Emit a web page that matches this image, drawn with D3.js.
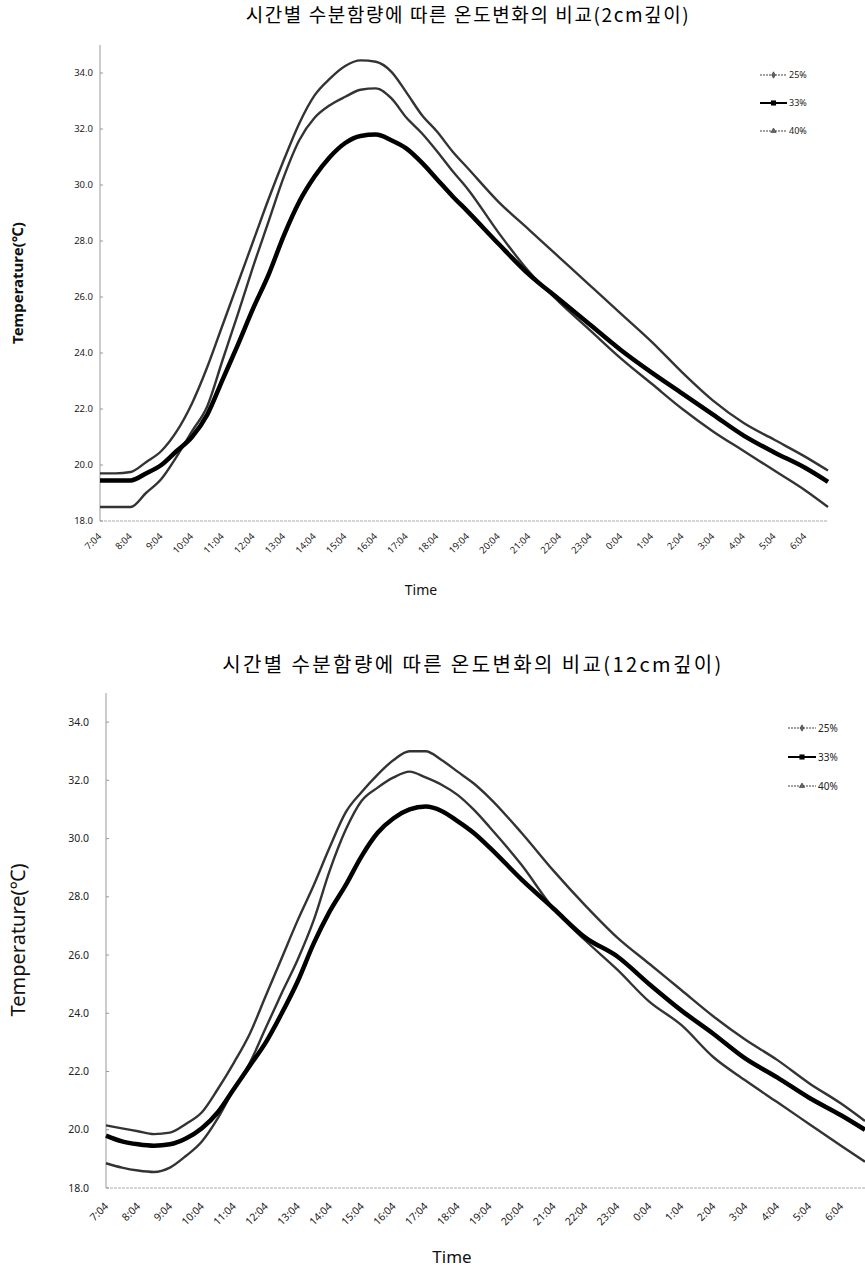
<!DOCTYPE html>
<html><head><meta charset="utf-8">
<script src="https://cdn.jsdelivr.net/npm/d3@7"></script>
<style>body{margin:0;background:#fff}svg{display:block}</style>
</head><body>
<svg id="c" width="865" height="1274"></svg>
<script>
// hours after 7:04
const hours = [0,0.5,1,1.5,2,2.5,3,3.5,4,4.5,5,5.5,6,6.5,7,7.5,8,8.5,9,9.5,10,10.5,11,11.5,12,13,14,15,16,17,18,19,20,21,22,23,23.75];
const tickLabels = ["7:04","8:04","9:04","10:04","11:04","12:04","13:04","14:04","15:04","16:04","17:04","18:04","19:04","20:04","21:04","22:04","23:04","0:04","1:04","2:04","3:04","4:04","5:04","6:04"];
const yTicks = [18,20,22,24,26,28,30,32,34];
const seriesNames = ["25%","33%","40%"];

// 2cm depth
const top25 = [18.5,18.5,18.5,19.0,19.5,20.3,21.2,22.1,23.75,25.4,27.1,28.7,30.3,31.6,32.4,32.85,33.15,33.4,33.45,33.1,32.4,31.85,31.2,30.5,29.85,28.3,26.9,25.8,24.8,23.8,22.9,22.0,21.2,20.5,19.8,19.1,18.5];
const top33 = [19.45,19.45,19.45,19.7,20.0,20.5,21.0,21.8,23.05,24.3,25.6,26.8,28.2,29.4,30.3,31.0,31.5,31.75,31.8,31.6,31.3,30.8,30.2,29.6,29.05,27.9,26.8,25.9,25.0,24.1,23.3,22.55,21.8,21.05,20.45,19.9,19.4];
const top40 = [19.7,19.7,19.75,20.1,20.5,21.2,22.2,23.5,25.0,26.5,28.0,29.5,30.9,32.2,33.2,33.8,34.25,34.45,34.4,34.05,33.3,32.5,31.9,31.2,30.6,29.4,28.4,27.4,26.4,25.4,24.4,23.3,22.3,21.5,20.9,20.3,19.8];

// 12cm depth
const bot25 = [18.85,18.7,18.6,18.55,18.7,19.1,19.6,20.4,21.4,22.3,23.5,24.7,25.85,27.2,28.9,30.3,31.3,31.75,32.1,32.3,32.1,31.85,31.5,31.0,30.4,29.1,27.6,26.5,25.5,24.4,23.6,22.5,21.7,20.95,20.2,19.45,18.9];
const bot33 = [19.8,19.6,19.5,19.45,19.5,19.7,20.05,20.6,21.4,22.2,23.0,24.0,25.1,26.4,27.5,28.4,29.4,30.2,30.7,31.0,31.1,30.95,30.6,30.2,29.7,28.6,27.6,26.6,25.95,25.0,24.1,23.3,22.45,21.8,21.1,20.5,20.0];
const bot40 = [20.15,20.05,19.95,19.85,19.9,20.2,20.6,21.4,22.3,23.3,24.6,25.9,27.2,28.4,29.7,30.9,31.6,32.2,32.7,33.0,33.0,32.7,32.3,31.9,31.4,30.2,28.9,27.7,26.6,25.7,24.8,23.9,23.1,22.4,21.6,20.9,20.3];

const svg = d3.select("#c");

function drawChart(cfg){
  const g = svg.append("g");
  const x = d3.scaleLinear().domain([0,23.75]).range([cfg.x0, cfg.x1]);
  const y = d3.scaleLinear().domain([18,35]).range([cfg.y0, cfg.y1]);

  g.append("text").attr("x", cfg.titleX).attr("y", cfg.titleY).attr("text-anchor","middle")
    .style("font-family","'Noto Sans CJK KR', sans-serif").style("font-size", cfg.titleSize+"px")
    .style("letter-spacing", cfg.titleLS+"px").attr("fill","#000")
    .text(cfg.title);

  // axes lines
  g.append("line").attr("x1",cfg.x0).attr("x2",cfg.x0).attr("y1",cfg.y1).attr("y2",cfg.y0)
    .attr("stroke","#999").attr("stroke-width",1);
  g.append("line").attr("x1",cfg.x0).attr("x2",cfg.x1).attr("y1",cfg.y0).attr("y2",cfg.y0)
    .attr("stroke","#aaa").attr("stroke-width",1).attr("stroke-dasharray","3,1");

  // y ticks
  yTicks.forEach(v=>{
    g.append("line").attr("x1",cfg.x0).attr("x2",cfg.x0+3).attr("y1",y(v)).attr("y2",y(v)).attr("stroke","#999");
    g.append("text").attr("x",cfg.yLabX).attr("y",y(v)+cfg.tickSize*0.35).attr("text-anchor","end")
      .style("font-family","'Noto Sans', sans-serif").style("font-size",cfg.tickSize+"px").attr("fill","#222")
      .text(v.toFixed(1));
  });
  // x tick labels
  tickLabels.forEach((lab,i)=>{
    const px = x(i), py = cfg.y0 + cfg.xLabDy;
    g.append("text").attr("transform",`translate(${px+cfg.xLabDx},${py}) rotate(-45)`)
      .attr("text-anchor","end")
      .style("font-family","'Noto Sans', sans-serif").style("font-size",cfg.tickSize+"px").attr("fill","#222")
      .text(lab);
  });

  g.append("text").attr("x",cfg.timeX).attr("y",cfg.timeY).attr("text-anchor","middle")
    .style("font-family","'Noto Sans', sans-serif").style("font-size",cfg.timeSize+"px").attr("fill","#111")
    .text("Time");
  g.append("text").attr("transform",`translate(${cfg.tempX},${cfg.tempY}) rotate(-90)`).attr("text-anchor","middle")
    .style("font-family","'Noto Sans', sans-serif").style("font-size",cfg.tempSize+"px")
    .style("font-weight",cfg.tempBold?"bold":"normal").attr("fill","#111")
    .text("Temperature(℃)");

  const line = d3.line().x((d,i)=>x(hours[i])).y(d=>y(d)).curve(d3.curveMonotoneX);
  const styles = [
    {data:cfg.s25, color:"#333", w:2.4},
    {data:cfg.s40, color:"#333", w:2.4},
    {data:cfg.s33, color:"#000", w:4.5}
  ];
  styles.forEach(s=>{
    g.append("path").attr("d",line(s.data)).attr("fill","none").attr("stroke",s.color)
      .attr("stroke-width",s.w).attr("stroke-linejoin","round");
  });

  // legend
  const lg = [
    {name:seriesNames[0], w:1.2, color:"#444", mark:"diamond"},
    {name:seriesNames[1], w:2, color:"#000", mark:"square"},
    {name:seriesNames[2], w:1.2, color:"#444", mark:"triangle"}
  ];
  lg.forEach((l,i)=>{
    const ly = cfg.legY + i*cfg.legStep;
    g.append("line").attr("x1",cfg.legX).attr("x2",cfg.legX+cfg.legLen).attr("y1",ly).attr("y2",ly)
      .attr("stroke",l.color).attr("stroke-width",l.w).attr("stroke-dasharray", l.mark==="square"?null:"2,1");
    const sym = l.mark==="square"?d3.symbolSquare:(l.mark==="diamond"?d3.symbolDiamond:d3.symbolTriangle);
    g.append("path").attr("d",d3.symbol().type(sym).size(l.mark==="square"?26:12)())
      .attr("transform",`translate(${cfg.legX+cfg.legLen/2},${ly})`)
      .attr("fill",l.mark==="square"?"#000":"#666").attr("stroke",l.mark==="square"?"none":"#333").attr("stroke-width",0.6);
    g.append("text").attr("x",cfg.legX+cfg.legLen+2).attr("y",ly+cfg.legFont*0.35)
      .style("font-family","'Noto Sans', sans-serif").style("font-size",cfg.legFont+"px").attr("fill","#222")
      .text(l.name);
  });
}

drawChart({
  title:"시간별 수분함량에 따른 온도변화의 비교(2cm깊이)", titleX:468, titleY:22, titleSize:19, titleLS:1.6,
  x0:100, x1:828, y0:521, y1:45,
  yLabX:93, tickSize:9.5, xLabDx:2, xLabDy:16,
  timeX:421, timeY:595, timeSize:14,
  tempX:23, tempY:283, tempSize:15, tempBold:true,
  s25:top25, s33:top33, s40:top40,
  legX:760, legLen:27, legY:75, legStep:28, legFont:9
});
drawChart({
  title:"시간별 수분함량에 따른 온도변화의 비교(12cm깊이)", titleX:473, titleY:672, titleSize:20, titleLS:2.4,
  x0:106, x1:865, y0:1188, y1:693,
  yLabX:89, tickSize:10.5, xLabDx:3, xLabDy:19,
  timeX:452, timeY:1263, timeSize:17,
  tempX:25, tempY:940, tempSize:20, tempBold:false,
  s25:bot25, s33:bot33, s40:bot40,
  legX:788, legLen:28, legY:728, legStep:29, legFont:10
});
</script>
</body></html>
